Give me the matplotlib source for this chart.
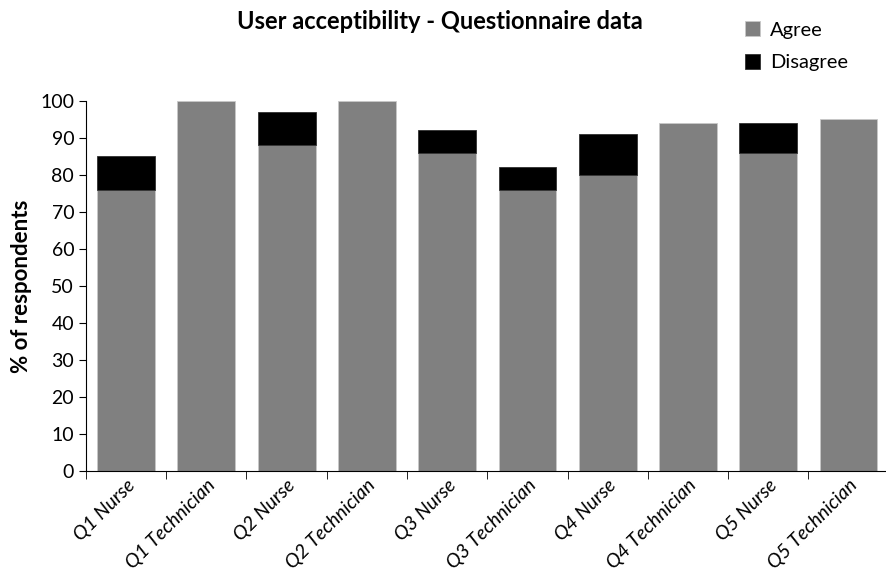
import matplotlib
matplotlib.use("Agg")
import matplotlib.pyplot as plt
import numpy as np

categories = ["Q1 Nurse", "Q1 Technician", "Q2 Nurse", "Q2 Technician", "Q3 Nurse",
              "Q3 Technician", "Q4 Nurse", "Q4 Technician", "Q5 Nurse", "Q5 Technician"]
agree = [76, 100, 88, 100, 86, 76, 80, 94, 86, 95]
disagree = [9, 0, 9, 0, 6, 6, 11, 0, 8, 0]
yticks = list(range(0, 101, 10))

plt.rcParams['font.family'] = ['Lato', 'DejaVu Sans']

fig = plt.figure(figsize=(8.86, 5.73), dpi=100)
ax = fig.add_axes([0.097, 0.178, 0.906, 0.646])
x = np.arange(len(categories))
ax.bar(x, agree, width=0.72, color='#808080', edgecolor='#c8c8c8', linewidth=0.6, label='Agree')
dis_lw = [0.6 if d > 0 else 0 for d in disagree]
ax.bar(x, disagree, bottom=agree, width=0.72, color='#000000', edgecolor='#303030',
       linewidth=dis_lw, label='Disagree')

ax.set_xlim(-0.5, len(categories) - 0.5)
ax.set_ylim(0, 100)
ax.set_yticks(yticks)
ax.tick_params(axis='y', labelsize=14, length=5, direction='out')
ax.set_xticks(x)
ax.set_xticklabels(categories, rotation=45, ha='right', rotation_mode='anchor',
                   fontstyle='italic', fontsize=14)
ax.tick_params(axis='x', length=0, pad=4)
ax.set_xticks(np.arange(-0.5, len(categories), 1.0), minor=True)
ax.tick_params(axis='x', which='minor', length=6, direction='out')
for s in ['top', 'right']:
    ax.spines[s].set_visible(False)
ax.set_ylabel('% of respondents', fontsize=16, fontweight='bold', labelpad=6)

fig.text(0.497, 0.962, 'User acceptibility - Questionnaire data', ha='center', va='center',
         fontsize=17, fontweight='bold')
fig.legend(loc='upper left', bbox_to_anchor=(0.82, 0.995), frameon=False, fontsize=14.5,
           handlelength=0.75, handleheight=0.8, labelspacing=0.75, handletextpad=0.5)

fig.savefig('out.png', dpi=100)
